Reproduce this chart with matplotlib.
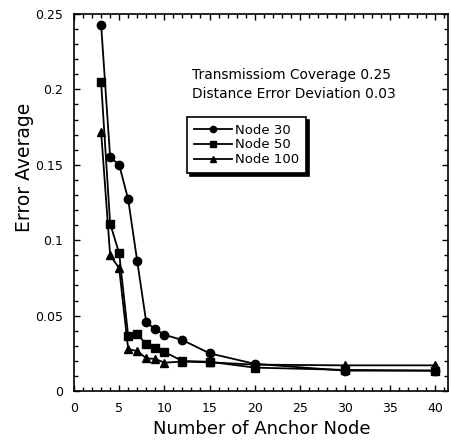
import matplotlib
matplotlib.use("Agg")
import matplotlib.pyplot as plt
from matplotlib.ticker import MultipleLocator, FuncFormatter

# Number of anchor nodes
anchors = [3, 4, 5, 6, 7, 8, 9, 10, 12, 15, 20, 30, 40]

# Average localisation error for each network size
node30 = [0.243, 0.155, 0.150, 0.127, 0.086, 0.0455, 0.041, 0.0373, 0.0338, 0.025, 0.018, 0.0135, 0.0135]
node50 = [0.205, 0.111, 0.0913, 0.0365, 0.0378, 0.031, 0.0283, 0.0259, 0.0199, 0.0194, 0.0155, 0.014, 0.0135]
node100 = [0.172, 0.090, 0.0814, 0.0277, 0.0265, 0.0217, 0.0212, 0.0188, 0.0195, 0.019, 0.0175, 0.017, 0.017]

series_labels = ["Node 30", "Node 50", "Node 100"]
note_lines = ["Transmissiom Coverage 0.25", "Distance Error Deviation 0.03"]

plt.rcParams["font.family"] = ["DejaVu Sans"]

fig = plt.figure(figsize=(4.51, 4.41), dpi=100)
ax = fig.add_axes([74 / 451, 50 / 441, 374 / 451, 377 / 441])

style = dict(color="black", linewidth=1.3)
ax.plot(anchors, node30, marker="o", markersize=6, label=series_labels[0], **style)
ax.plot(anchors, node50, marker="s", markersize=6, label=series_labels[1], **style)
ax.plot(anchors, node100, marker="^", markersize=6, label=series_labels[2], **style)

ax.set_xlim(0, 41.4)
ax.set_ylim(0, 0.25)

ax.xaxis.set_major_locator(MultipleLocator(5))
ax.xaxis.set_minor_locator(MultipleLocator(1))
ax.yaxis.set_major_locator(MultipleLocator(0.05))
ax.yaxis.set_minor_locator(MultipleLocator(0.01))
ax.yaxis.set_major_formatter(FuncFormatter(lambda v, p: f"{v:g}"))

ax.tick_params(which="both", direction="in", top=True, right=True, width=1,
               colors="black", labelsize=9)
ax.tick_params(which="major", length=4, pad=8)
ax.tick_params(which="minor", length=3)
for s in ax.spines.values():
    s.set_linewidth(1.2)

ax.set_xlabel("Number of Anchor Node", fontsize=13)
ax.set_ylabel("Error Average", fontsize=13.5)
ax.xaxis.set_label_coords(0.503, -0.078)
ax.yaxis.set_label_coords(-0.106, 0.594)

ax.text(0.315, 0.839, note_lines[0], transform=ax.transAxes, fontsize=9.9, va="center")
ax.text(0.315, 0.789, note_lines[1], transform=ax.transAxes, fontsize=9.9, va="center")

leg = ax.legend(loc="upper left", bbox_to_anchor=(0.302, 0.727), borderaxespad=0,
                fancybox=False, edgecolor="black", framealpha=1, fontsize=9.5,
                handlelength=2.9, handletextpad=0.25, labelspacing=0.15,
                borderpad=0.5, markerscale=0.75,
                shadow={"color": "black", "alpha": 1.0})
leg.get_frame().set_linewidth(1.2)

fig.savefig("out.png", dpi=100)
